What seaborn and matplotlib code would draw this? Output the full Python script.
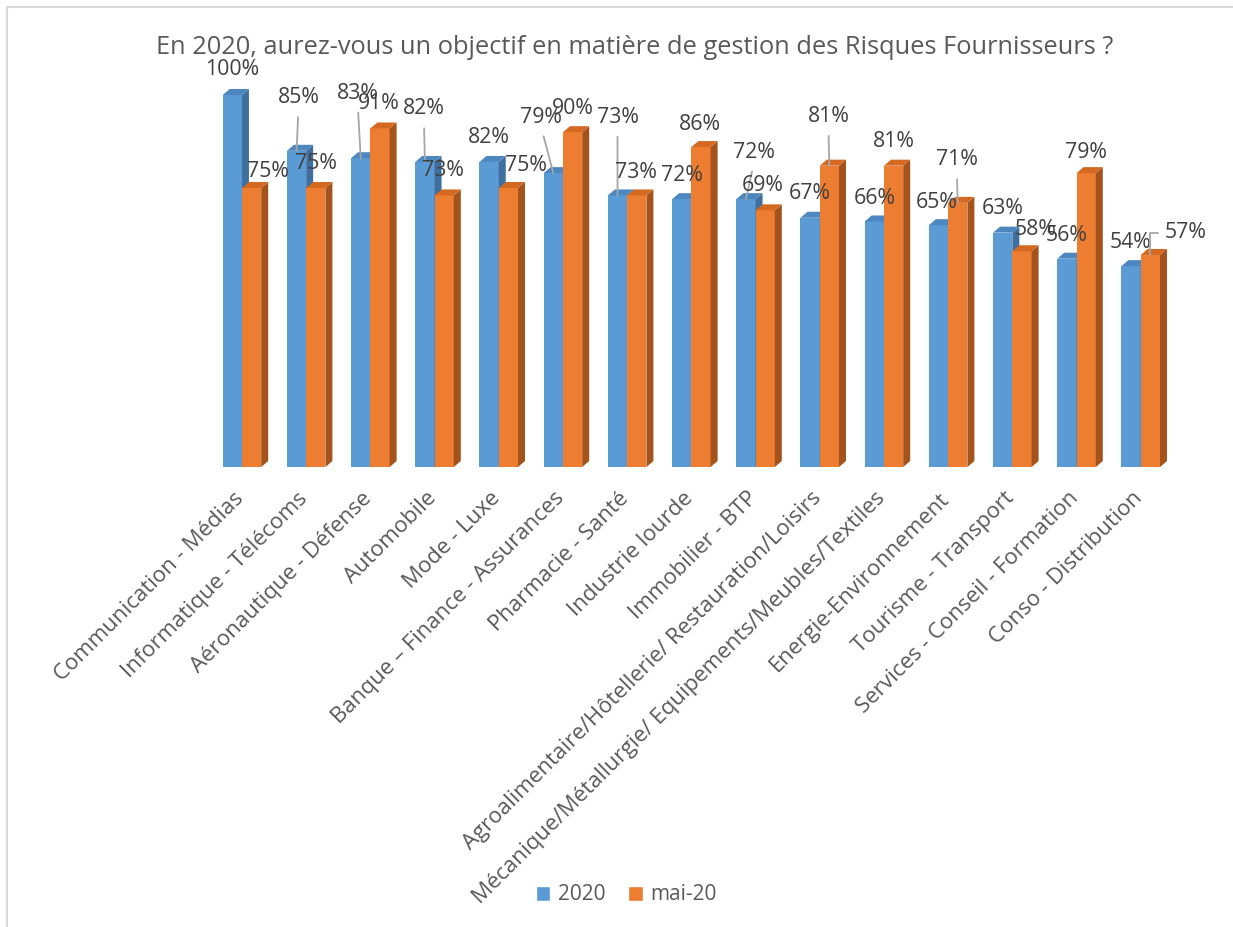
import matplotlib
matplotlib.use("Agg")
import matplotlib.pyplot as plt
from matplotlib.patches import Polygon, Patch
from matplotlib.lines import Line2D
from matplotlib.transforms import ScaledTranslation
import pandas as pd
import seaborn as sns

# --- data -------------------------------------------------------------
secteurs = [
    "Communication - Médias",
    "Informatique - Télécoms",
    "Aéronautique - Défense",
    "Automobile",
    "Mode - Luxe",
    "Banque – Finance - Assurances",
    "Pharmacie - Santé",
    "Industrie lourde",
    "Immobilier - BTP",
    "Agroalimentaire/Hôtellerie/ Restauration/Loisirs",
    "Mécanique/Métallurgie/ Equipements/Meubles/Textiles",
    "Energie-Environnement",
    "Tourisme - Transport",
    "Services - Conseil - Formation",
    "Conso - Distribution",
]
periodes = ["2020", "mai-20"]
taux_2020 = [100, 85, 83, 82, 82, 79, 73, 72, 72, 67, 66, 65, 63, 56, 54]
taux_mai20 = [75, 75, 91, 73, 75, 90, 73, 86, 69, 81, 81, 71, 58, 79, 57]
titre = "En 2020, aurez-vous un objectif en matière de gestion des Risques Fournisseurs ?"

# --- label placement (pixel offsets from the bar top, y pointing down) ---
dx_2020 = [0, 2, -3, -1, 0, -12, 0, 0, 8, 0, 0, -2, 0, 0, -1]
dy_2020 = [-25, -53, -65, -53, -24, -56, -78, -24, -47, -24, -23, -23, -24, -23, -24]
lead_2020 = [0, 1, 1, 1, 0, 1, 1, 0, 1, 0, 0, 0, 0, 0, 0]
dx_mai = [16, 0, -1, -1, 18, 0, -1, -1, -2, -1, 0, -1, 14, 0, 35]
dy_mai = [-16, -24, -25, -25, -22, -24, -23, -23, -25, -49, -24, -43, -22, -21, -22]
lead_mai = [0, 0, 0, 0, 0, 0, 0, 0, 0, 1, 0, 1, 0, 0, 2]

BLUE, ORANGE = "#5b9bd5", "#ed7d31"
SIDE = {"2020": "#3f6f9e", "mai-20": "#a4531c"}
TOP = {"2020": "#4d87bf", "mai-20": "#d46a22"}
TXT = "#595959"
LBL = "#404040"
LEAD = "#a6a6a6"

sns.set_theme(style="white")
plt.rcParams["font.family"] = ["Open Sans", "DejaVu Sans"]

df = pd.DataFrame({
    "secteur": secteurs * 2,
    "periode": [periodes[0]] * len(secteurs) + [periodes[1]] * len(secteurs),
    "taux": [v / 100 for v in taux_2020 + taux_mai20],
})

fig = plt.figure(figsize=(12.33, 9.27), dpi=100)
ax = fig.add_axes([0.1702, 0.4962, 0.781, 0.4214])
sns.barplot(data=df, x="secteur", y="taux", hue="periode", hue_order=periodes,
            palette=[BLUE, ORANGE], width=0.6, saturation=1, legend=False,
            linewidth=0, ax=ax)
ax.set_xlim(-0.5, 14.5)
ax.set_ylim(0, 1.05)
ax.set_xlabel("")
ax.set_ylabel("")
ax.set_yticks([])
for s in ax.spines.values():
    s.set_visible(False)

ax.set_xticks(range(len(secteurs)))
ax.set_xticklabels(secteurs, rotation=45, ha="right", va="top",
                   rotation_mode="anchor", fontsize=16, color=TXT)
ax.tick_params(axis="x", length=0, pad=15)
shift = ScaledTranslation(-9 / 100, 0, fig.dpi_scale_trans)
for lab in ax.get_xticklabels():
    lab.set_transform(lab.get_transform() + shift)

# --- 3D look: side and top faces for each bar -------------------------
DEPTH_X, DEPTH_Y = 7, 6  # pixels
fig.canvas.draw()
to_data = ax.transData.inverted()
for k, (per, cont) in enumerate(zip(periodes, ax.containers)):
    for bar in cont:
        bar.set_zorder(2 + 2 * k)
        x0, y0 = bar.get_x(), bar.get_y()
        x1, y1 = x0 + bar.get_width(), y0 + bar.get_height()
        p = ax.transData.transform([(x0, y0), (x1, y0), (x1, y1), (x0, y1)])
        (ax0, ab), (ax1, _), (_, at), _ = p
        side = [(ax1, ab), (ax1 + DEPTH_X, ab + DEPTH_Y),
                (ax1 + DEPTH_X, at + DEPTH_Y), (ax1, at)]
        top = [(ax0, at), (ax0 + DEPTH_X, at + DEPTH_Y),
               (ax1 + DEPTH_X, at + DEPTH_Y), (ax1, at)]
        ax.add_patch(Polygon(to_data.transform(side), closed=True,
                             facecolor=SIDE[per], lw=0, zorder=2.5 + 2 * k,
                             clip_on=False))
        ax.add_patch(Polygon(to_data.transform(top), closed=True,
                             facecolor=TOP[per], lw=0, zorder=2.6 + 2 * k,
                             clip_on=False))

# --- data labels ------------------------------------------------------
series = [(taux_2020, dx_2020, dy_2020, lead_2020),
          (taux_mai20, dx_mai, dy_mai, lead_mai)]
for k, ((vals, dxs, dys, leads), cont) in enumerate(zip(series, ax.containers)):
    for v, dx, dy, ld, bar in zip(vals, dxs, dys, leads, cont):
        xy = (bar.get_x() + bar.get_width() / 2, bar.get_height())
        kw = {}
        if ld == 1:
            kw["arrowprops"] = dict(arrowstyle="-", color=LEAD, lw=1.3,
                                    shrinkA=4, shrinkB=0, relpos=(0.5, 0))
        elif ld == 2:
            kw["arrowprops"] = dict(arrowstyle="-", color=LEAD, lw=1.3,
                                    shrinkA=2, shrinkB=0, relpos=(0, 0.5),
                                    connectionstyle="angle,angleA=180,angleB=90,rad=0")
        ax.annotate(f"{v}%", xy=xy, xytext=(dx, -dy), textcoords="offset pixels",
                    ha="center", va="center", fontsize=15.3, color=LBL,
                    zorder=10, annotation_clip=False, **kw)

# --- title, legend, frame ----------------------------------------------
fig.text(635 / 1233, 1 - 47 / 927, titre, ha="center", va="center",
         fontsize=18.3, color=TXT)

handles = [Patch(facecolor=BLUE, label=periodes[0]),
           Patch(facecolor=ORANGE, label=periodes[1])]
fig.legend(handles=handles, loc="center", bbox_to_anchor=(626 / 1233, 1 - 895 / 927),
           ncol=2, frameon=False, handlelength=0.7, handleheight=0.7,
           handletextpad=0.35, columnspacing=1.1, fontsize=15, labelcolor=TXT)

fx, fy = 7 / 1233, 1 - 7 / 927
fig.add_artist(Line2D([fx, 1.0], [fy, fy], transform=fig.transFigure,
                      color="#d9d9d9", lw=1.5))
fig.add_artist(Line2D([fx, fx], [0.0, fy], transform=fig.transFigure,
                      color="#d9d9d9", lw=1.5))

fig.savefig("out.png", dpi=100, facecolor="white")
